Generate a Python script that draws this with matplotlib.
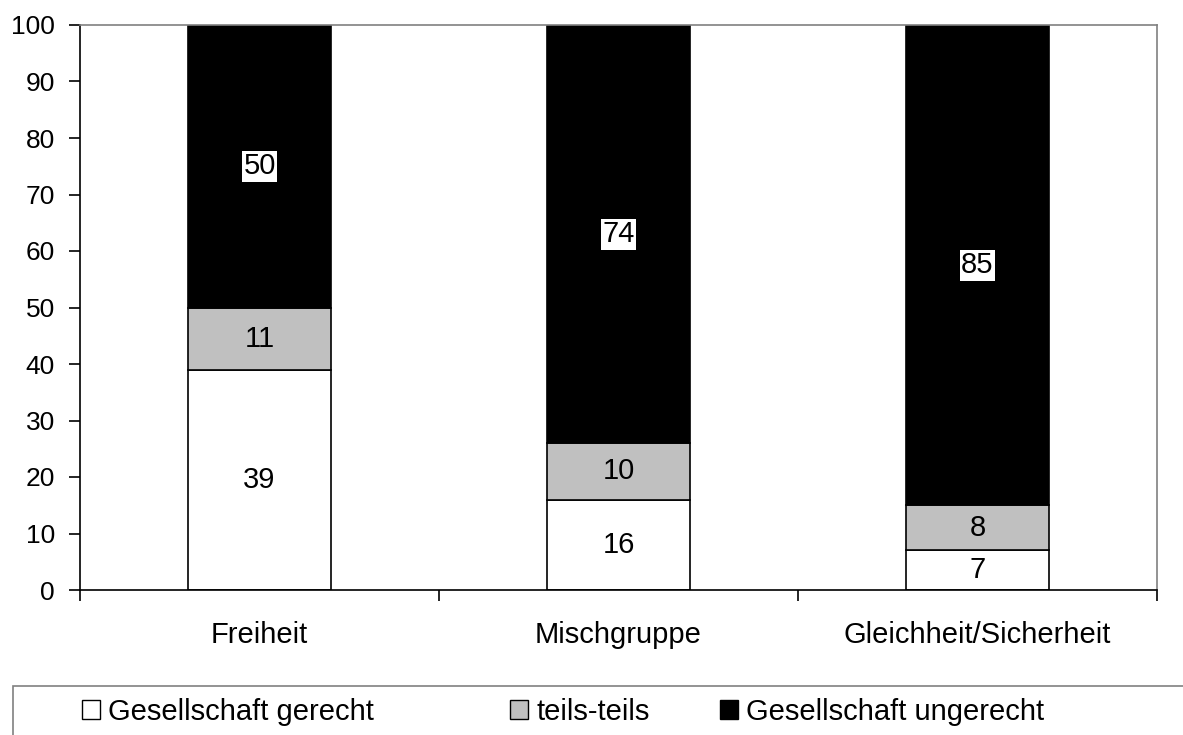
import matplotlib

matplotlib.use("Agg")
import matplotlib.pyplot as plt
from matplotlib.patches import Patch, Rectangle

plt.rcParams["font.family"] = ["Liberation Sans", "DejaVu Sans"]

categories = ["Freiheit", "Mischgruppe", "Gleichheit/Sicherheit"]
gerecht = [39, 16, 7]
teils = [11, 10, 8]
ungerecht = [50, 74, 85]
series_names = ["Gesellschaft gerecht", "teils-teils", "Gesellschaft ungerecht"]
series_colors = ["#FFFFFF", "#C0C0C0", "#000000"]

fig = plt.figure(figsize=(11.83, 7.35), dpi=100)
ax = fig.add_axes([80 / 1183, 1 - 590 / 735, (1157 - 80) / 1183, (590 - 25) / 735])

x = list(range(len(categories)))
bottom = [0] * len(categories)
for vals, color in zip([gerecht, teils, ungerecht], series_colors):
    ax.bar(x, vals, width=0.4, bottom=bottom, color=color,
           edgecolor="black", linewidth=1.2, zorder=2)
    for xi, b, v in zip(x, bottom, vals):
        kw = {}
        if color == "#000000":
            kw["bbox"] = dict(facecolor="white", edgecolor="none", pad=1.0)
        ax.text(xi, b + v / 2, str(v), ha="center", va="center",
                fontsize=21, color="black", zorder=3, **kw)
    bottom = [b + v for b, v in zip(bottom, vals)]

ax.set_xlim(-0.5, 2.5)
ax.set_ylim(0, 100)
ax.set_yticks(range(0, 101, 10))
ax.set_xticks(x)
ax.set_xticklabels(categories)
ax.set_xticks([-0.5, 0.5, 1.5, 2.5], minor=True)
ax.tick_params(axis="x", which="major", length=0, pad=22, labelsize=21)
ax.tick_params(axis="x", which="minor", length=8, width=1.2, direction="out")
ax.tick_params(axis="y", length=8, width=1.2, direction="out", pad=10, labelsize=19)

for side in ["top", "right"]:
    ax.spines[side].set_color("#808080")
    ax.spines[side].set_linewidth(1.2)
for side in ["left", "bottom"]:
    ax.spines[side].set_color("black")
    ax.spines[side].set_linewidth(1.2)

# legend frame running off the bottom and right edge
fig.add_artist(Rectangle((13 / 1183, -0.05), 1.1, (735 - 686) / 735 + 0.05,
                         transform=fig.transFigure, facecolor="none",
                         edgecolor="#808080", linewidth=1.2))

legend_x = [82 / 1183, 510 / 1183, 720 / 1183]
for name, color, lx in zip(series_names, series_colors, legend_x):
    handle = Patch(facecolor=color, edgecolor="black", linewidth=1.0)
    fig.legend([handle], [name], loc="center left",
               bbox_to_anchor=(lx, 1 - 712 / 735), frameon=False,
               fontsize=21, handlelength=0.62, handleheight=0.62,
               handletextpad=0.28, borderpad=0, borderaxespad=0)

fig.savefig("out.png", dpi=100)
